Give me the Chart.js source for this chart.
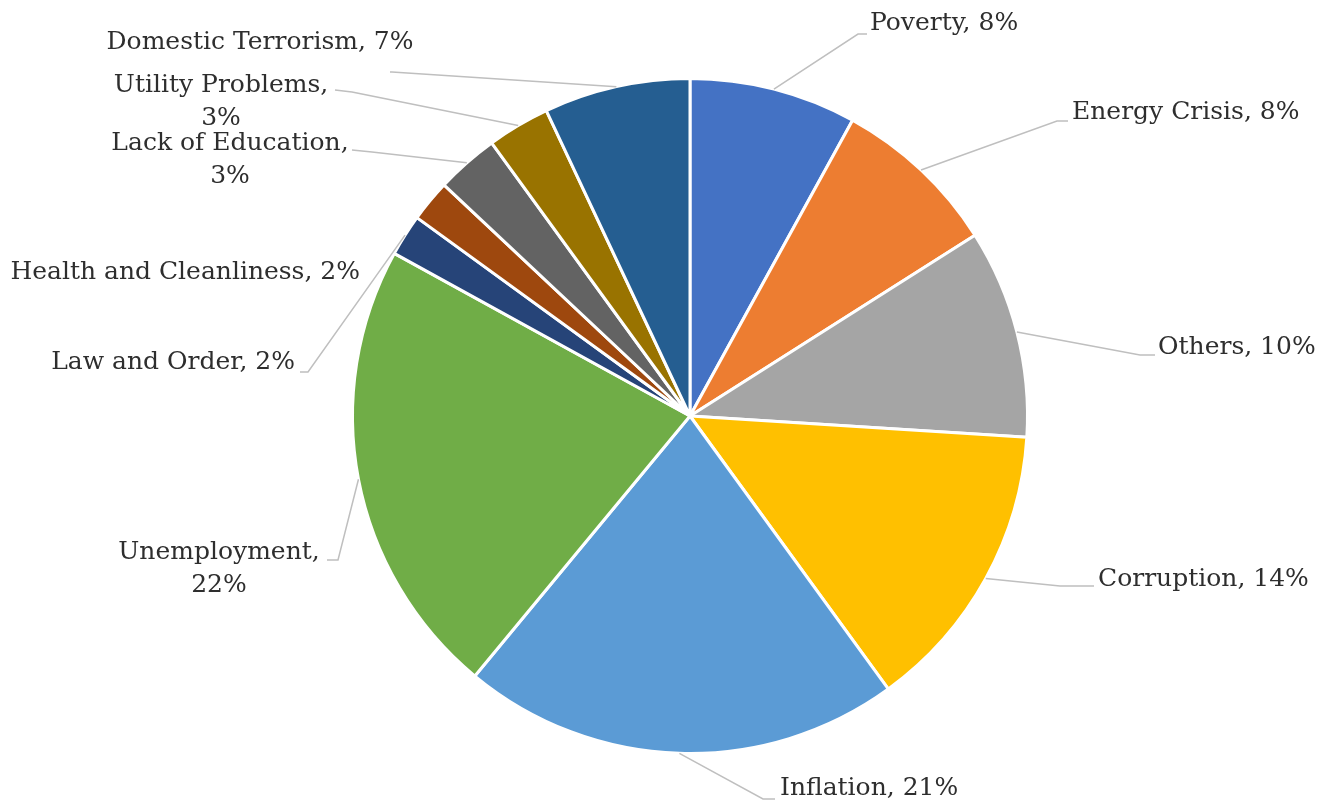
<!DOCTYPE html>
<html>
<head>
<meta charset="utf-8">
<title>Major Problems</title>
<script src="https://cdn.jsdelivr.net/npm/chart.js@4.4.1/dist/chart.umd.min.js"></script>
<style>
  html, body { margin: 0; padding: 0; background: #fff; }
  canvas { display: block; }
</style>
</head>
<body>
<canvas id="problemsChart" width="1325" height="802"></canvas>
<script>
// Survey results: share of respondents naming each problem (%)
const categories = [
  'Poverty', 'Energy Crisis', 'Others', 'Corruption', 'Inflation', 'Unemployment',
  'Law and Order', 'Health and Cleanliness', 'Lack of Education', 'Utility Problems',
  'Domestic Terrorism'
];
const shares = [8, 8, 10, 14, 21, 22, 2, 2, 3, 3, 7];
const sliceColors = [
  '#4472C4', '#ED7D31', '#A5A5A5', '#FFC000', '#5B9BD5', '#70AD47',
  '#264478', '#9E480E', '#636363', '#997300', '#255E91'
];

// Where each data label sits, plus the bend of its leader line
// align: text anchor; wrap: put the percentage on a second line
// elbow / hook: leader goes arc -> elbow -> hook (null = no leader)
const labelLayout = [
  { x: 870,  y: 23,  align: 'left',   wrap: false, elbow: [858, 34],  hook: [867, 34] },
  { x: 1072, y: 112, align: 'left',   wrap: false, elbow: [1057, 121], hook: [1068, 121] },
  { x: 1158, y: 347, align: 'left',   wrap: false, elbow: [1140, 355], hook: [1155, 355] },
  { x: 1098, y: 579, align: 'left',   wrap: false, elbow: [1060, 586], hook: [1094, 586] },
  { x: 780,  y: 788, align: 'left',   wrap: false, elbow: [763, 799], hook: [775, 799] },
  { x: 219,  y: 552, align: 'center', wrap: true,  elbow: [338, 560], hook: [327, 560] },
  { x: 295,  y: 362, align: 'right',  wrap: false, elbow: [308, 372], hook: [300, 372] },
  { x: 360,  y: 272, align: 'right',  wrap: false, elbow: null, hook: null },
  { x: 230,  y: 143, align: 'center', wrap: true,  elbow: [372, 152], hook: [352, 150] },
  { x: 221,  y: 85,  align: 'center', wrap: true,  elbow: [352, 92],  hook: [335, 90] },
  { x: 260,  y: 42,  align: 'center', wrap: false, elbow: [392, 72],  hook: [390, 72] }
];

const labelFont = '25px "DejaVu Serif", serif';
const lineGap = 33;

// Draws "Name, X%" labels with grey leader lines out to each slice
const leaderLabels = {
  id: 'leaderLabels',
  afterDraw(chart) {
    const ctx = chart.ctx;
    const arcs = chart.getDatasetMeta(0).data;
    ctx.save();
    arcs.forEach((arc, i) => {
      const spot = labelLayout[i];
      const p = arc.getProps(['x', 'y', 'startAngle', 'endAngle', 'outerRadius'], true);
      const mid = (p.startAngle + p.endAngle) / 2;
      const ax = p.x + Math.cos(mid) * p.outerRadius;
      const ay = p.y + Math.sin(mid) * p.outerRadius;

      if (spot.elbow) {
        ctx.beginPath();
        ctx.strokeStyle = '#BFBFBF';
        ctx.lineWidth = 1.5;
        ctx.moveTo(ax, ay);
        ctx.lineTo(spot.elbow[0], spot.elbow[1]);
        ctx.lineTo(spot.hook[0], spot.hook[1]);
        ctx.stroke();
      }

      const pct = chart.data.datasets[0].data[i] + '%';
      const name = chart.data.labels[i];
      const lines = spot.wrap ? [name + ',', pct] : [name + ', ' + pct];
      ctx.font = labelFont;
      ctx.fillStyle = '#2E2E2E';
      ctx.textAlign = spot.align;
      ctx.textBaseline = 'middle';
      lines.forEach((t, k) => ctx.fillText(t, spot.x, spot.y + k * lineGap));
    });
    ctx.restore();
  }
};

const ctx = document.getElementById('problemsChart').getContext('2d');
new Chart(ctx, {
  type: 'pie',
  data: {
    labels: categories,
    datasets: [{
      data: shares,
      backgroundColor: sliceColors,
      borderColor: '#FFFFFF',
      borderWidth: 3
    }]
  },
  options: {
    responsive: false,
    animation: false,
    layout: { padding: { top: 77, bottom: 47, left: 200, right: 145 } },
    plugins: {
      legend: { display: false },
      tooltip: { enabled: false }
    }
  },
  plugins: [leaderLabels]
});
</script>
</body>
</html>
